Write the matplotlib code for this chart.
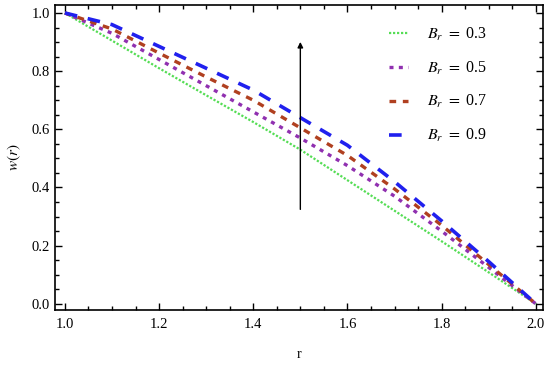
import numpy as np
import matplotlib.pyplot as plt
from matplotlib.ticker import MultipleLocator

plt.rcParams['font.family'] = 'Liberation Serif'
plt.rcParams['mathtext.fontset'] = 'stix'

# radial coordinate and velocity profiles
r = [1.0, 1.1, 1.2, 1.3, 1.4, 1.5, 1.6, 1.7, 1.8, 1.9, 2.0]
w_03 = [1.0, 0.905, 0.81, 0.717, 0.625, 0.53, 0.425, 0.32, 0.215, 0.108, 0.0]
w_05 = [1.0, 0.93, 0.84, 0.75, 0.66, 0.57, 0.475, 0.37, 0.25, 0.125, 0.0]
w_07 = [1.0, 0.945, 0.862, 0.78, 0.70, 0.605, 0.51, 0.395, 0.27, 0.135, 0.0]
w_09 = [1.0, 0.96, 0.885, 0.81, 0.735, 0.64, 0.545, 0.42, 0.285, 0.145, 0.0]
labels = ['0.3', '0.5', '0.7', '0.9']

fig = plt.figure(figsize=(5.5, 3.65), dpi=100)
ax = fig.add_axes([0.1, 0.151, 0.887, 0.835])

ax.plot(r, w_03, color='#55dd55', lw=1.6, ls=(0, (1, 0.8)), label=r'$B_r\ =\ $' + labels[0])
ax.plot(r, w_05, color='#9030b0', lw=2.4, ls=(0, (1.2, 1.6)), label=r'$B_r\ =\ $' + labels[1])
ax.plot(r, w_07, color='#b04020', lw=2.4, ls=(0, (2, 2)), label=r'$B_r\ =\ $' + labels[2])
ax.plot(r, w_09, color='#2020ee', lw=2.6, ls=(0, (3.5, 3)), label=r'$B_r\ =\ $' + labels[3])

# arrow showing increasing B_r
ax.annotate('', xy=(1.5, 0.91), xytext=(1.5, 0.315),
            arrowprops=dict(arrowstyle='-|>', color='black', lw=1.0,
                            mutation_scale=8))

ax.set_xlim(0.979, 2.015)
ax.set_ylim(-0.021, 1.027)
ax.xaxis.set_major_locator(MultipleLocator(0.2))
ax.xaxis.set_minor_locator(MultipleLocator(0.05))
ax.yaxis.set_major_locator(MultipleLocator(0.2))
ax.yaxis.set_minor_locator(MultipleLocator(0.05))
ax.xaxis.set_major_formatter(plt.FormatStrFormatter('%.1f'))
ax.yaxis.set_major_formatter(plt.FormatStrFormatter('%.1f'))
ax.tick_params(which='both', direction='in', top=True, right=True,
               labelsize=10.5, width=1.0)
ax.tick_params(axis='x', pad=6)
ax.tick_params(which='major', length=5)
ax.tick_params(which='minor', length=3)
for s in ax.spines.values():
    s.set_linewidth(1.2)

ax.set_xlabel('r', fontsize=10, labelpad=12)
ax.set_ylabel(r'$w(r)$', fontsize=11, labelpad=6)

ax.legend(loc='upper right', bbox_to_anchor=(0.915, 0.98), frameon=False,
          fontsize=11.5, handlelength=1.2, labelspacing=1.05, handletextpad=1.2)

fig.savefig('out.png', dpi=100)
